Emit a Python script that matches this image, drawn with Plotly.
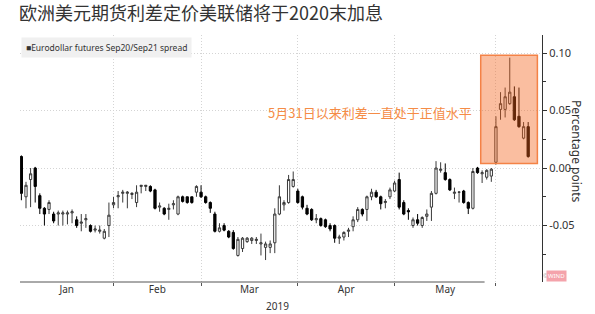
import plotly.graph_objects as go
import pandas as pd

# ---- data -------------------------------------------------------------
holidays = ["2019-01-21", "2019-02-18", "2019-04-19", "2019-05-27"]
dates = [d.strftime("%Y-%m-%d") for d in pd.bdate_range("2019-01-03", "2019-06-12")
         if d.strftime("%Y-%m-%d") not in holidays]

opens = [
    0.010, -0.025, -0.010, 0.000, -0.024, -0.035, -0.036, -0.040, -0.040, -0.040,
    -0.040, -0.039, -0.045, -0.048, -0.045, -0.050, -0.054, -0.055, -0.061, -0.050,
    -0.032, -0.025, -0.022, -0.022, -0.023, -0.030, -0.016, -0.016, -0.016, -0.019,
    -0.034, -0.035, -0.036, -0.032, -0.040, -0.025, -0.025, -0.025, -0.021,
    -0.021, -0.025, -0.030, -0.040, -0.055, -0.050, -0.055, -0.056, -0.076, -0.070,
    -0.064, -0.063, -0.063, -0.066, -0.069, -0.069, -0.065, -0.040, -0.032, -0.030, -0.016,
    -0.020, -0.025, -0.035, -0.036, -0.045, -0.044, -0.045, -0.050, -0.050, -0.061,
    -0.060, -0.055, -0.051, -0.045, -0.036, -0.036, -0.025, -0.021, -0.025, -0.030, -0.025,
    -0.020, -0.010, -0.030, -0.037, -0.050, -0.045, -0.050, -0.042, -0.034, -0.022,
    -0.002, -0.004, -0.010, -0.022, -0.021, -0.020, -0.030, -0.035, 0.000, -0.005,
    -0.008, -0.007,
    0.005, 0.051, 0.051, 0.056, 0.062, 0.045, 0.026, 0.036,
]
highs = [
    0.011, -0.012, 0.000, 0.001, -0.022, -0.034, -0.028, -0.038, -0.037, -0.037,
    -0.037, -0.036, -0.042, -0.040, -0.040, -0.049, -0.050, -0.050, -0.053, -0.030,
    -0.025, -0.020, -0.019, -0.020, -0.021, -0.015, -0.015, -0.015, -0.015, -0.018,
    -0.030, -0.034, -0.031, -0.028, -0.024, -0.024, -0.025, -0.025, -0.015,
    -0.015, -0.024, -0.029, -0.038, -0.048, -0.048, -0.054, -0.054, -0.060, -0.060,
    -0.060, -0.060, -0.060, -0.057, -0.064, -0.063, -0.035, -0.015, -0.028, -0.006, -0.003,
    -0.018, -0.024, -0.032, -0.035, -0.040, -0.043, -0.044, -0.048, -0.049, -0.058,
    -0.055, -0.052, -0.042, -0.034, -0.035, -0.024, -0.018, -0.019, -0.024, -0.027, -0.017,
    -0.011, -0.004, -0.028, -0.035, -0.043, -0.040, -0.042, -0.036, -0.020, 0.006,
    0.005, 0.004, -0.009, -0.017, -0.020, -0.019, -0.029, 0.000, 0.001, -0.002,
    -0.001, 0.000,
    0.045, 0.066, 0.070, 0.096, 0.071, 0.070, 0.040, 0.040,
]
lows = [
    -0.028, -0.035, -0.034, -0.030, -0.040, -0.050, -0.040, -0.048, -0.050, -0.050,
    -0.049, -0.048, -0.052, -0.055, -0.052, -0.056, -0.056, -0.057, -0.062, -0.060,
    -0.035, -0.035, -0.030, -0.035, -0.027, -0.034, -0.022, -0.020, -0.021, -0.036,
    -0.038, -0.041, -0.045, -0.036, -0.041, -0.030, -0.031, -0.031, -0.025,
    -0.026, -0.031, -0.039, -0.056, -0.056, -0.055, -0.061, -0.071, -0.077, -0.073,
    -0.065, -0.066, -0.066, -0.076, -0.080, -0.074, -0.074, -0.041, -0.037, -0.031, -0.017,
    -0.031, -0.036, -0.041, -0.046, -0.048, -0.051, -0.052, -0.055, -0.065, -0.066,
    -0.063, -0.060, -0.055, -0.047, -0.042, -0.046, -0.028, -0.026, -0.036, -0.035, -0.027,
    -0.021, -0.036, -0.041, -0.045, -0.052, -0.050, -0.052, -0.046, -0.046, -0.023,
    -0.004, -0.011, -0.020, -0.027, -0.030, -0.031, -0.040, -0.036, -0.005, -0.013,
    -0.010, -0.012,
    0.003, 0.042, 0.044, 0.055, 0.041, 0.035, 0.025, 0.009,
]
closes = [
    -0.022, -0.015, -0.005, -0.016, -0.035, -0.040, -0.030, -0.046, -0.039, -0.039,
    -0.039, -0.038, -0.050, -0.047, -0.044, -0.055, -0.053, -0.054, -0.055, -0.041,
    -0.030, -0.024, -0.021, -0.021, -0.022, -0.021, -0.015, -0.015, -0.020, -0.035,
    -0.033, -0.040, -0.035, -0.031, -0.025, -0.029, -0.030, -0.030, -0.016,
    -0.025, -0.030, -0.035, -0.055, -0.052, -0.054, -0.060, -0.070, -0.062, -0.061,
    -0.061, -0.061, -0.062, -0.065, -0.066, -0.066, -0.040, -0.025, -0.030, -0.010, -0.010,
    -0.030, -0.034, -0.040, -0.045, -0.044, -0.050, -0.051, -0.053, -0.061, -0.060,
    -0.056, -0.054, -0.045, -0.036, -0.040, -0.025, -0.021, -0.025, -0.031, -0.029, -0.019,
    -0.013, -0.034, -0.040, -0.038, -0.045, -0.048, -0.043, -0.040, -0.022, 0.000,
    -0.001, -0.010, -0.019, -0.021, -0.021, -0.030, -0.035, -0.003, -0.004, -0.004,
    -0.002, -0.001,
    0.036, 0.056, 0.062, 0.066, 0.042, 0.036, 0.036, 0.010,
]
month_labels = ["Jan", "Feb", "Mar", "Apr", "May"]
y_tick_vals = [-0.05, 0.00, 0.05, 0.10]
y_tick_text = ["-0.05", "0.00", "0.05", "0.10"]

assert len(dates) == len(opens) == len(highs) == len(lows) == len(closes)

# ---- derived positions ------------------------------------------------
xi = list(range(len(dates)))
x_min, x_max = -0.3, 113.0
month_starts = [i for i in range(1, len(dates)) if dates[i][5:7] != dates[i - 1][5:7]]
bounds = [x_min] + month_starts
label_pos = [(bounds[i] + bounds[i + 1]) / 2 for i in range(len(month_labels))]

fig = go.Figure()
fig.add_trace(go.Candlestick(
    x=xi, open=opens, high=highs, low=lows, close=closes,
    increasing=dict(line=dict(color="#3a3a3a", width=1), fillcolor="white"),
    decreasing=dict(line=dict(color="#000000", width=1), fillcolor="#000000"),
    whiskerwidth=0, showlegend=False, text=dates, hoverinfo="text+y",
))

grid = "#d4d4d4"
gdash = "1px,2px"
fig.update_layout(
    width=595, height=314,
    margin=dict(l=20, r=53, t=35, b=32),
    paper_bgcolor="white", plot_bgcolor="white",
    font=dict(family="Noto Sans", color="#333333"),
    showlegend=False,
    xaxis=dict(
        range=[x_min, x_max], rangeslider=dict(visible=False),
        tickmode="array", tickvals=label_pos, ticktext=month_labels,
        showgrid=False, ticks="", zeroline=False, showline=False,
        tickfont=dict(size=10, color="#333333"),
        minor=dict(tickmode="array", tickvals=month_starts, showgrid=True,
                   gridcolor=grid, griddash=gdash, gridwidth=1,
                   ticks="outside", ticklen=3, tickcolor="#555555"),
    ),
    yaxis=dict(
        side="right", range=[-0.0991, 0.1157],
        tickmode="array", tickvals=y_tick_vals, ticktext=y_tick_text,
        showgrid=True, gridcolor=grid, griddash=gdash, zeroline=False,
        showline=True, linecolor="#333333", linewidth=1.2,
        ticks="outside", ticklen=4, tickcolor="#333333",
        tickfont=dict(size=11, color="#333333"),
        minor=dict(tickmode="array", tickvals=[-0.075, -0.025, 0.025, 0.075],
                   ticks="outside", ticklen=3, tickcolor="#333333", showgrid=False),
    ),
)

# bottom axis line (partial, as in reference)
fig.add_shape(type="line", xref="paper", yref="paper", x0=0, x1=0.89, y0=0, y1=0,
              line=dict(color="#555555", width=1))

# highlight box
fig.add_shape(type="rect", xref="x", yref="y", x0=99.7, x1=112.0, y0=0.004, y1=0.098,
              fillcolor="rgba(244,98,24,0.41)", line=dict(color="rgb(244,130,70)", width=1.5),
              layer="above")

# title
fig.add_annotation(text="欧洲美元期货利差定价美联储将于2020末加息", xref="paper", yref="paper",
                   x=-0.005, y=1.0, yshift=23, xanchor="left", yanchor="middle", showarrow=False,
                   font=dict(family="Noto Sans CJK SC", size=18, color="#333333"))
# legend box
fig.add_annotation(text="■Eurodollar futures Sep20/Sep21 spread", xref="paper", yref="paper",
                   x=0.002, y=0.99, xanchor="left", yanchor="top", showarrow=False,
                   bgcolor="#f0f0f0", borderpad=4,
                   font=dict(family="Noto Sans", size=8.5, color="#333333"))
# orange note
fig.add_annotation(text="5月31日以来利差一直处于正值水平", xref="x", yref="y",
                   x=75.7, y=0.048, showarrow=False,
                   font=dict(family="Noto Sans CJK SC", size=13, color="rgb(245,140,70)"))
# y-axis title
fig.add_annotation(text="Percentage points", xref="paper", yref="paper",
                   x=1.0, xshift=35, xanchor="center", y=0.53, yanchor="middle",
                   textangle=90, showarrow=False,
                   font=dict(family="Noto Sans", size=12, color="#333333"))
# year label
fig.add_annotation(text="2019", xref="x", yref="paper", x=label_pos[2] + 6, y=0,
                   yshift=-24, yanchor="middle", showarrow=False,
                   font=dict(family="Noto Sans", size=10, color="#333333"))
# watermark
fig.add_annotation(text="©", xref="paper", yref="paper", x=1.0, xshift=8, y=0.0,
                   showarrow=False, font=dict(size=6, color="#aaaaaa"))
fig.add_annotation(text="WIND", xref="paper", yref="paper", x=1.0, xshift=25, y=0.0,
                   showarrow=False, bgcolor="#f4a3ab", borderpad=1,
                   font=dict(size=6, color="white"))

fig.write_html("out.html")
